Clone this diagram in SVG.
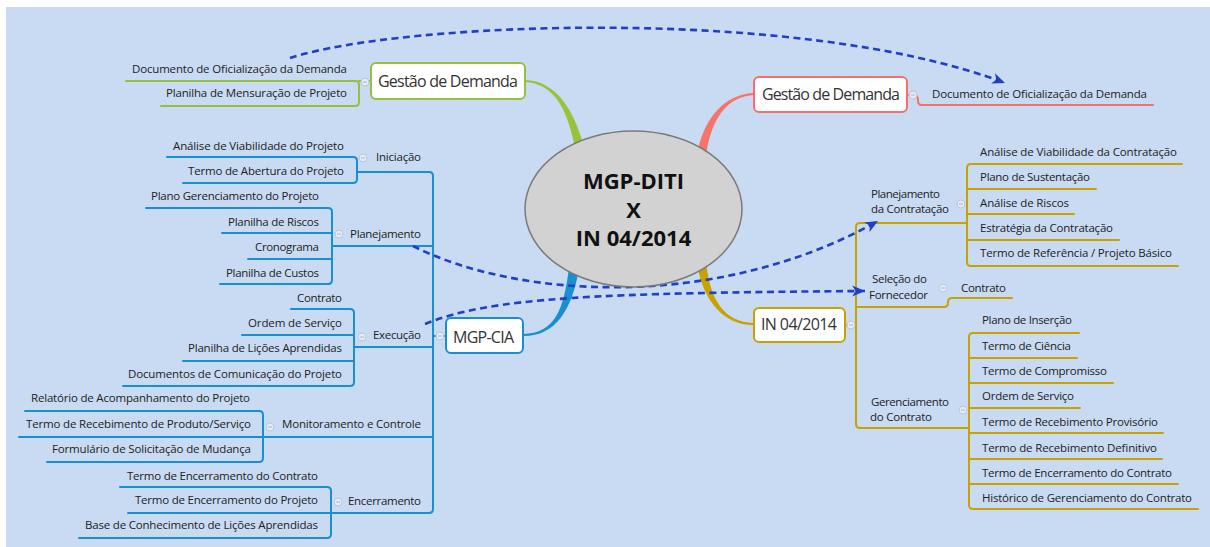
<svg xmlns="http://www.w3.org/2000/svg" xmlns:xlink="http://www.w3.org/1999/xlink" width="1210" height="547" viewBox="0 0 1210 547">
  <defs>
    <style>
      .bg { fill: #c9dbf2; }
      .t { font-family: "Open Sans", "Noto Sans", sans-serif; font-size: 11.5px; fill: #222; }
      .tr { font-family: "Open Sans", "Noto Sans", sans-serif; font-size: 11.5px; fill: #222; text-anchor: end; }
      .main { font-family: "Open Sans", "Noto Sans", sans-serif; font-size: 16px; fill: #333; }
      .center { font-family: "Open Sans", "DejaVu Sans", sans-serif; font-size: 22px; font-weight: bold; fill: #111; text-anchor: middle; }
      .ln { fill: none; stroke-width: 2; stroke-linecap: round; stroke-linejoin: round; }
      .blue { stroke: #1a8fcf; }
      .gold { stroke: #c8a200; }
      .green { stroke: #95c03a; }
      .red { stroke: #f5706a; }
      .box { fill: #ffffff; stroke-width: 2; }
      .rel { fill: none; stroke: #1f3fc4; stroke-width: 2.6; stroke-dasharray: 7 4.5; }
    </style>
    <marker id="arrow" markerUnits="userSpaceOnUse" markerWidth="14" markerHeight="12" refX="11" refY="5" orient="auto" viewBox="0 0 12 10">
      <path d="M0,0.3 L11,5 L0,9.7 L3,5 Z" fill="#1f3fc4"/>
    </marker>
    <g id="collapse">
      <circle r="4" fill="#e4ebf6" stroke="#b9c6da" stroke-width="1"/>
      <line x1="-2" y1="0" x2="2" y2="0" stroke="#aab6ca" stroke-width="1"/>
    </g>
  </defs>

  <!-- page background -->
  <rect width="1210" height="547" fill="#ffffff"/>
  <rect class="bg" x="6" y="7" width="1204" height="540"/>

  <g id="connectors">
    <!-- tapered main branches -->
    <path d="M584.4,149.1 C575.4,111.3 556,80.5 525,80 L525,82 C556,83.5 568.6,112.7 575.6,150.9 Z" fill="#98c23c"/>
    <path d="M706.4,152.8 C713.4,110.7 732,96.5 754,95 L754,93 C732,93.5 706.6,109.3 697.6,151.2 Z" fill="#f7746a"/>
    <path d="M569,267.3 C564,309.4 555,333.5 523,334 L523,336 C555,336.5 572,310.6 579,268.7 Z" fill="#1a8fcf"/>
    <path d="M697.6,266.7 C703.5,300.5 724,325.5 754,325 L754,323 C724,322.5 710.5,299.5 706.5,265.3 Z" fill="#c8a200"/>

    <!-- Gestão de Demanda (left) -->
    <path class="ln green" d="M126,81 H355 Q359,81 359,85 V102 Q359,106 355,106 H161"/>
    <path class="ln green" d="M359,81 H371"/>

    <!-- Gestão de Demanda (right) -->
    <path class="ln red" d="M907,95 H913 Q918,95 918,100 V101 Q918,105 922,105 H1153"/>

    <!-- MGP-CIA trunk -->
    <path class="ln blue" d="M357,172 H429 Q433,172 433,176 V509 Q433,513 429,513 H331"/>
    <path class="ln blue" d="M433,336 H446"/>
    <!-- Iniciação -->
    <path class="ln blue" d="M167,157 H353 Q357,157 357,161 V179 Q357,183 353,183 H183"/>
    <!-- Planejamento -->
    <path class="ln blue" d="M146,208 H328 Q332,208 332,212 V280 Q332,284 328,284 H220"/>
    <path class="ln blue" d="M222,233 H332 M248,259 H332 M332,246 H433"/>
    <!-- Execução -->
    <path class="ln blue" d="M291,309 H350 Q354,309 354,313 V382 Q354,386 350,386 H123"/>
    <path class="ln blue" d="M242,335 H354 M183,361 H354 M354,347 H433"/>
    <!-- Monitoramento e Controle -->
    <path class="ln blue" d="M25,411 H259 Q263,411 263,415 V458 Q263,462 259,462 H47"/>
    <path class="ln blue" d="M19,437 H433"/>
    <!-- Encerramento -->
    <path class="ln blue" d="M120,487 H327 Q331,487 331,491 V534 Q331,538 327,538 H79"/>
    <path class="ln blue" d="M128,513 H331"/>

    <!-- IN 04/2014 trunk -->
    <path class="ln gold" d="M845,325 H856"/>
    <path class="ln gold" d="M967,223 H860 Q856,223 856,227 V424 Q856,428 860,428 H969"/>
    <!-- Planejamento da Contratação -->
    <path class="ln gold" d="M1182,164 H971 Q967,164 967,168 V262 Q967,266 971,266 H1178"/>
    <path class="ln gold" d="M967,189 H1096 M967,214 H1074 M967,240 H1119"/>
    <!-- Seleção do Fornecedor -->
    <path class="ln gold" d="M856,307 H944 Q948,307 948,303 V302 Q948,298 952,298 H1012"/>
    <!-- Gerenciamento do Contrato -->
    <path class="ln gold" d="M1079,333 H973 Q969,333 969,337 V505 Q969,509 973,509 H1198"/>
    <path class="ln gold" d="M969,358 H1077 M969,383 H1113 M969,408 H1080 M969,433 H1163 M969,459 H1162 M969,484 H1178"/>

    <!-- collapse markers -->
    <use xlink:href="#collapse" x="365" y="82"/>
    <use xlink:href="#collapse" x="913" y="95"/>
    <use xlink:href="#collapse" x="440" y="336"/>
    <use xlink:href="#collapse" x="851" y="325"/>
    <use xlink:href="#collapse" x="363" y="158"/>
    <use xlink:href="#collapse" x="339" y="234"/>
    <use xlink:href="#collapse" x="362" y="337"/>
    <use xlink:href="#collapse" x="270" y="427"/>
    <use xlink:href="#collapse" x="338" y="502"/>
    <use xlink:href="#collapse" x="961" y="204"/>
    <use xlink:href="#collapse" x="943" y="288"/>
    <use xlink:href="#collapse" x="963" y="410"/>

    <!-- dashed relationships -->
    <path class="rel" d="M290,58 C400,22 800,5 1005,83" marker-end="url(#arrow)"/>
    <path class="rel" d="M413,246 C520,300 720,310 878,221" marker-end="url(#arrow)"/>
    <path class="rel" d="M425,324 C490,297 600,293 865,291" marker-end="url(#arrow)"/>
  </g>

  <!-- central topic -->
  <g id="center">
    <ellipse cx="633.5" cy="209" rx="108.5" ry="78" fill="#d2d2d2" stroke="#7a7a7a" stroke-width="1.5"/>
    <text class="center" x="633.5" y="189">MGP-DITI</text>
    <text class="center" x="633.5" y="218">X</text>
    <text class="center" x="633.5" y="246">IN 04/2014</text>
  </g>

  <!-- main topics -->
  <g id="gestao-esq">
    <rect class="box" x="371" y="63" width="154" height="36" rx="5" stroke="#95c03a"/>
    <text class="main" x="378" y="87" textLength="140">Gestão de Demanda</text>
  </g>
  <g id="gestao-dir">
    <rect class="box" x="754" y="77" width="153" height="35" rx="5" stroke="#f5706a"/>
    <text class="main" x="762" y="100" textLength="138">Gestão de Demanda</text>
  </g>
  <g id="mgp-cia">
    <rect class="box" x="446" y="318" width="77" height="35" rx="5" stroke="#1a8fcf"/>
    <text class="main" x="453" y="343" textLength="61">MGP-CIA</text>
  </g>
  <g id="in-04-2014">
    <rect class="box" x="754" y="308" width="91" height="34" rx="5" stroke="#c8a200"/>
    <text class="main" x="761" y="330" textLength="76">IN 04/2014</text>
  </g>

  <!-- Gestão de Demanda (left) children -->
  <g id="ge-doc"><text class="tr" x="347" y="73" textLength="215">Documento de Oficialização da Demanda</text></g>
  <g id="ge-planilha"><text class="tr" x="347" y="97" textLength="181">Planilha de Mensuração de Projeto</text></g>

  <!-- Gestão de Demanda (right) child -->
  <g id="gd-doc"><text class="t" x="932" y="98" textLength="215">Documento de Oficialização da Demanda</text></g>

  <!-- MGP-CIA phases -->
  <g id="iniciacao"><text class="t" x="376" y="161" textLength="45">Iniciação</text></g>
  <g id="ini-analise"><text class="tr" x="344" y="150" textLength="171">Análise de Viabilidade do Projeto</text></g>
  <g id="ini-termo"><text class="tr" x="344" y="175" textLength="156">Termo de Abertura do Projeto</text></g>

  <g id="planejamento"><text class="t" x="350" y="238" textLength="71">Planejamento</text></g>
  <g id="pl-plano"><text class="tr" x="319" y="200" textLength="168">Plano Gerenciamento do Projeto</text></g>
  <g id="pl-riscos"><text class="tr" x="319" y="226" textLength="91">Planilha de Riscos</text></g>
  <g id="pl-crono"><text class="tr" x="319" y="251" textLength="64">Cronograma</text></g>
  <g id="pl-custos"><text class="tr" x="319" y="277" textLength="93">Planilha de Custos</text></g>

  <g id="execucao"><text class="t" x="373" y="339" textLength="48">Execução</text></g>
  <g id="ex-contrato"><text class="tr" x="342" y="302" textLength="45">Contrato</text></g>
  <g id="ex-ordem"><text class="tr" x="342" y="327" textLength="94">Ordem de Serviço</text></g>
  <g id="ex-licoes"><text class="tr" x="342" y="352" textLength="154">Planilha de Lições Aprendidas</text></g>
  <g id="ex-docs"><text class="tr" x="342" y="378" textLength="214">Documentos de Comunicação do Projeto</text></g>

  <g id="monitoramento"><text class="t" x="282" y="428" textLength="139">Monitoramento e Controle</text></g>
  <g id="mo-relatorio"><text class="tr" x="250" y="402" textLength="219">Relatório de Acompanhamento do Projeto</text></g>
  <g id="mo-termo"><text class="tr" x="251" y="428" textLength="225">Termo de Recebimento de Produto/Serviço</text></g>
  <g id="mo-form"><text class="tr" x="251" y="453" textLength="199">Formulário de Solicitação de Mudança</text></g>

  <g id="encerramento"><text class="t" x="348" y="505" textLength="73">Encerramento</text></g>
  <g id="en-contrato"><text class="tr" x="318" y="480" textLength="191">Termo de Encerramento do Contrato</text></g>
  <g id="en-projeto"><text class="tr" x="318" y="504" textLength="183">Termo de Encerramento do Projeto</text></g>
  <g id="en-base"><text class="tr" x="318" y="529" textLength="233">Base de Conhecimento de Lições Aprendidas</text></g>

  <!-- IN 04/2014 phases -->
  <g id="planejamento-contratacao">
    <text class="t" x="871" y="198" textLength="69">Planejamento</text>
    <text class="t" x="871" y="213" textLength="78">da Contratação</text>
  </g>
  <g id="pc-analise"><text class="t" x="980" y="156" textLength="197">Análise de Viabilidade da Contratação</text></g>
  <g id="pc-plano"><text class="t" x="980" y="181" textLength="110">Plano de Sustentação</text></g>
  <g id="pc-riscos"><text class="t" x="980" y="207" textLength="89">Análise de Riscos</text></g>
  <g id="pc-estrategia"><text class="t" x="980" y="232" textLength="133">Estratégia da Contratação</text></g>
  <g id="pc-termo"><text class="t" x="980" y="257" textLength="192">Termo de Referência / Projeto Básico</text></g>

  <g id="selecao-fornecedor">
    <text class="t" x="872" y="283" textLength="55">Seleção do</text>
    <text class="t" x="869" y="299" textLength="59">Fornecedor</text>
  </g>
  <g id="sf-contrato"><text class="t" x="961" y="292" textLength="45">Contrato</text></g>

  <g id="gerenciamento-contrato">
    <text class="t" x="871" y="406" textLength="78">Gerenciamento</text>
    <text class="t" x="870" y="421" textLength="62">do Contrato</text>
  </g>
  <g id="gc-insercao"><text class="t" x="982" y="324" textLength="90">Plano de Inserção</text></g>
  <g id="gc-ciencia"><text class="t" x="982" y="350" textLength="89">Termo de Ciência</text></g>
  <g id="gc-compromisso"><text class="t" x="982" y="375" textLength="125">Termo de Compromisso</text></g>
  <g id="gc-ordem"><text class="t" x="982" y="400" textLength="92">Ordem de Serviço</text></g>
  <g id="gc-provisorio"><text class="t" x="982" y="426" textLength="176">Termo de Recebimento Provisório</text></g>
  <g id="gc-definitivo"><text class="t" x="982" y="452" textLength="175">Termo de Recebimento Definitivo</text></g>
  <g id="gc-encerramento"><text class="t" x="982" y="477" textLength="190">Termo de Encerramento do Contrato</text></g>
  <g id="gc-historico"><text class="t" x="982" y="502" textLength="210">Histórico de Gerenciamento do Contrato</text></g>
</svg>
